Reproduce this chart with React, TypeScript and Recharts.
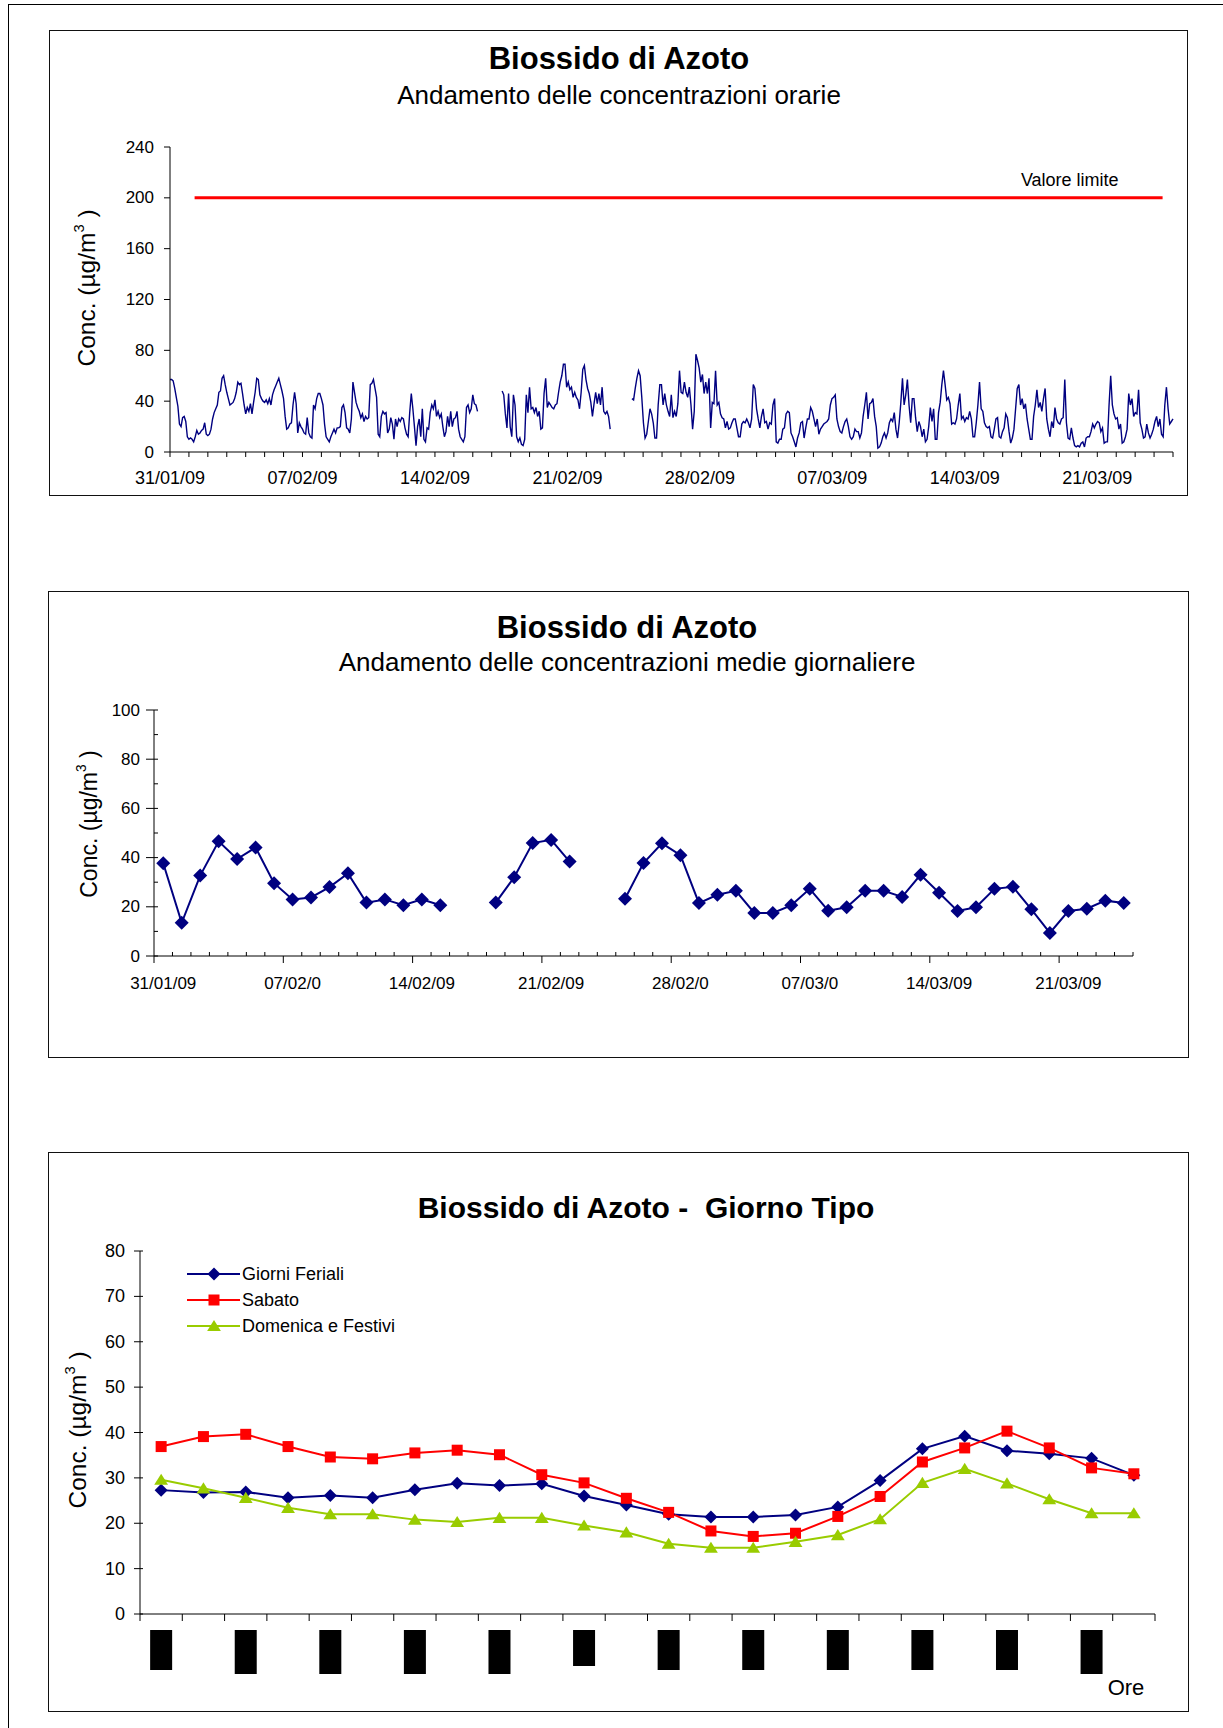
import React from 'react';
import { LineChart, Line, XAxis, YAxis } from 'recharts';

const FONT = '"Liberation Sans", Arial, Helvetica, sans-serif';
const NAVY = '#000080';
const RED = '#FF0000';
const LIME = '#99CC00';

// ---------- Chart 1: hourly NO2 (read every ~2 h off the trace), three recorded stretches
const hourlySeg1 = [
  57, 57, 56, 50, 43, 36, 22, 20, 27, 28, 24, 12,
  10, 11, 10, 8, 12, 17, 14, 15, 17, 18, 23, 14,
  13, 14, 18, 26, 31, 34, 37, 47, 48, 58, 60, 53,
  47, 42, 37, 38, 39, 42, 47, 55, 53, 54, 46, 37,
  30, 35, 32, 38, 30, 39, 47, 58, 57, 45, 42, 40,
  39, 41, 38, 42, 37, 45, 49, 52, 55, 58, 53, 48,
  42, 28, 18, 19, 22, 23, 37, 47, 38, 15, 23, 20,
  18, 15, 14, 27, 15, 12, 11, 37, 34, 42, 46, 46,
  42, 37, 22, 12, 10, 8, 12, 15, 18, 15, 19, 19,
  20, 35, 37, 31, 19, 18, 15, 26, 55, 47, 39, 35,
  32, 27, 30, 24, 28, 26, 27, 53, 54, 57, 50, 43,
  14, 12, 28, 32, 30, 31, 15, 18, 27, 22, 10, 26,
  20, 26, 24, 27, 26, 19, 14, 12, 31, 46, 34, 20,
  5, 20, 26, 12, 34, 10, 8, 19, 18, 31, 37, 34,
  41, 28, 32, 27, 30, 20, 12, 16, 28, 20, 32, 20,
  26, 27, 32, 18, 12, 10, 8, 12, 35, 37, 31, 34,
  45, 38, 37, 32,
];

const hourlySeg2 = [
  48, 45, 30, 19, 46, 20, 12, 45, 37, 12,
  8, 11, 6, 5, 10, 45, 31, 51, 34, 35,
  31, 35, 28, 32, 18, 19, 46, 58, 35, 39,
  37, 35, 34, 37, 38, 47, 55, 60, 69, 69,
  51, 55, 49, 51, 43, 47, 43, 41, 34, 47,
  65, 68, 57, 50, 46, 39, 28, 38, 47, 38,
  46, 37, 51, 32, 30, 32, 28, 18,
];

const hourlySeg3 = [
  42, 41, 50, 58, 64, 60, 43, 23, 11, 14,
  24, 34, 30, 23, 11, 11, 37, 53, 53, 37,
  46, 37, 32, 28, 45, 27, 32, 28, 38, 64,
  47, 46, 55, 47, 43, 51, 37, 18, 32, 77,
  72, 66, 55, 61, 46, 55, 46, 58, 19, 39,
  38, 64, 37, 39, 30, 27, 26, 19, 24, 18,
  19, 23, 26, 26, 19, 12, 12, 22, 24, 23,
  26, 23, 19, 26, 53, 50, 34, 26, 19, 28,
  34, 23, 24, 18, 23, 22, 37, 42, 8, 7,
  10, 10, 18, 19, 30, 32, 31, 15, 12, 8,
  4, 11, 15, 23, 24, 11, 19, 26, 26,
  35, 32, 26, 20, 26, 14, 18, 20, 22, 23,
  24, 26, 37, 42, 43, 45, 26, 20, 16, 15,
  20, 24, 26, 20, 12, 10, 12, 18, 16, 16,
  11, 15, 28, 37, 47, 26, 38, 39, 42, 28,
  20, 3, 4, 7, 12, 15, 11, 15, 23, 26,
  24, 31, 18, 11, 23, 39, 58, 37, 45, 57,
  37, 23, 42, 42, 27, 16, 24, 20, 12, 18,
  8, 10, 20, 35, 24, 34, 10, 10, 31, 39,
  53, 64, 53, 41, 43, 38, 22, 23, 22, 26,
  37, 46, 26, 28, 24, 27, 26, 32, 26, 12,
  12, 23, 37, 55, 34, 32, 23, 20, 19, 20,
  12, 11, 18, 26, 27, 12, 11, 16, 19, 30,
  27, 16, 7, 11, 18, 34, 50, 53, 37, 42,
  34, 38, 26, 18, 10, 10, 28, 37, 49, 35,
  39, 32, 42, 50, 26, 18, 12, 24, 19, 35,
  26, 23, 22, 26, 27, 57, 23, 11, 10, 19,
  11, 5, 4, 5, 4, 7, 8, 4, 11, 12,
  12, 16, 22, 19, 22, 24, 23, 16, 19, 7,
  8, 8, 37, 60, 37, 30, 26, 27, 18, 22,
  7, 8, 12, 18, 46, 37, 42, 28, 31, 30,
  49, 23, 18, 11, 12, 22, 15, 11, 14, 18,
  24, 28, 20, 26, 14, 12, 37, 51, 34, 22,
  24, 26,
];

// days since 31/01/09 where each recorded stretch starts / ends
const segStart = [0, 17.55, 24.41];
const segEnd = [16.25, 23.26, 53];
const weekLabels1 = ['31/01/09', '07/02/09', '14/02/09', '21/02/09', '28/02/09', '07/03/09', '14/03/09', '21/03/09'];
const limitDays = [1.3, 52.45];
const limitValue = 200;

// ---------- Chart 2: daily means (null = missing day)
const dailyMeans = [
  37.7, 13.5, 32.7, 46.6, 39.4, 44.1, 29.6, 23, 23.8, 28, 33.6, 21.7, 23, 20.6, 23, 20.6,
  null, null, 21.7, 32, 45.9, 47.2, 38.4, null, null,
  23.3, 37.8, 45.8, 41, 21.5, 24.9, 26.5, 17.5, 17.5, 20.6, 27.3, 18.4, 19.8, 26.5, 26.5,
  24, 33, 25.7, 18.3, 19.8, 27.3, 28.1, 19, 9.4, 18.3, 19.2, 22.5, 21.5,
];
const weekLabels2 = ['31/01/09', '07/02/0', '14/02/09', '21/02/09', '28/02/0', '07/03/0', '14/03/09', '21/03/09'];

// ---------- Chart 3: typical day
const hours = ['1', '2', '3', '4', '5', '6', '7', '8', '9', '10', '11', '12',
  '13', '14', '15', '16', '17', '18', '19', '20', '21', '22', '23', '24'];
const feriali = [27.3, 26.8, 26.9, 25.6, 26.1, 25.6, 27.4, 28.8, 28.3, 28.7, 26, 24,
  22, 21.4, 21.4, 21.8, 23.6, 29.4, 36.4, 39.2, 36, 35.3, 34.3, 30.6];
const sabato = [36.9, 39.1, 39.6, 36.9, 34.6, 34.2, 35.5, 36.1, 35.1, 30.7, 28.9, 25.5,
  22.4, 18.3, 17.1, 17.8, 21.5, 25.9, 33.5, 36.6, 40.3, 36.6, 32.2, 30.9];
const domenica = [29.6, 27.7, 25.6, 23.4, 22, 22, 20.8, 20.3, 21.2, 21.2, 19.5, 18,
  15.5, 14.6, 14.6, 15.9, 17.4, 20.9, 28.9, 32, 28.8, 25.3, 22.2, 22.2];
const seriesNames = ['Giorni Feriali', 'Sabato', 'Domenica e Festivi'];

// heights of the solid blocks that stand in for the hour labels
const HOUR_BLOCK_H = [40, 44, 44, 44, 44, 36, 40, 40, 40, 40, 40, 44];

// ---------- derived tables
const hourlyData: { t: number; v: number | null }[] = [];
[hourlySeg1, hourlySeg2, hourlySeg3].forEach((seg, s) => {
  const step = (segEnd[s] - segStart[s]) / (seg.length - 1);
  seg.forEach((v, i) => hourlyData.push({ t: segStart[s] + i * step, v }));
  if (s < 2) hourlyData.push({ t: segEnd[s] + 0.1, v: null });
});
const limitData = limitDays.map((t) => ({ t, v: limitValue }));
const dailyData = dailyMeans.map((v, d) => ({ d, v }));
const typicalDay = hours.map((h, i) => ({ i, h, fer: feriali[i], sab: sabato[i], dom: domenica[i] }));

const range = (from: number, to: number, step: number) => {
  const out: number[] = [];
  for (let v = from; v <= to + 1e-9; v += step) out.push(Math.round(v * 10) / 10);
  return out;
};

// ---------- marker shapes
const diamond = (cx: number, cy: number, r: number, fill: string, key?: any) => (
  <path key={key} d={`M${cx},${cy - r}L${cx + r},${cy}L${cx},${cy + r}L${cx - r},${cy}Z`} fill={fill} />
);
const square = (cx: number, cy: number, r: number, fill: string, key?: any) => (
  <rect key={key} x={cx - r} y={cy - r} width={2 * r} height={2 * r} fill={fill} />
);
const triangle = (cx: number, cy: number, r: number, fill: string, key?: any) => (
  <path key={key} d={`M${cx},${cy - r}L${cx + r * 1.15},${cy + r * 0.85}L${cx - r * 1.15},${cy + r * 0.85}Z`} fill={fill} />
);

const dotWith = (shape: typeof diamond, r: number, fill: string) => (p: any) =>
  p.cx == null || p.cy == null || p.value == null ? <g key={`n${p.index}`} /> : shape(p.cx, p.cy, r, fill, `d${p.index}`);

const txt = { fontFamily: FONT, fill: '#000' };

// ---------- small html helpers
const Box = ({ left, top, width, height, children }: any) => (
  <div style={{ position: 'absolute', left, top, width, height, boxSizing: 'border-box', border: '1px solid #111', background: '#fff' }}>
    {children}
  </div>
);

const Centered = ({ x, y, size, bold, children }: any) => (
  <div style={{ position: 'absolute', left: x, top: y, transform: 'translate(-50%, -50%)', whiteSpace: 'pre', fontFamily: FONT, fontSize: size, fontWeight: bold ? 'bold' : 'normal', color: '#000', lineHeight: 1 }}>
    {children}
  </div>
);

const YTitle = ({ x, y, size }: any) => (
  <div style={{ position: 'absolute', left: x, top: y, transform: 'translate(-50%, -50%) rotate(-90deg)', whiteSpace: 'pre', fontFamily: FONT, fontSize: size, color: '#000', lineHeight: 1 }}>
    Conc. (µg/m<sup style={{ fontSize: '0.6em', verticalAlign: '0.75em' }}>3</sup> )
  </div>
);

// ---------- chart 1
function HourlyChart() {
  const xTick = ({ x, y, payload }: any) => {
    const d = payload.value;
    return (
      <g>
        <line x1={x} x2={x} y1={y} y2={y + 5} stroke="#000" />
        {d % 7 === 0 && (
          <text x={x} y={y + 26} textAnchor="middle" dominantBaseline="central" fontSize={18} {...txt}>
            {weekLabels1[d / 7]}
          </text>
        )}
      </g>
    );
  };
  const yTick = ({ x, y, payload }: any) => (
    <g>
      <line x1={x - 6} x2={x} y1={y} y2={y} stroke="#000" />
      <text x={x - 16} y={y} textAnchor="end" dominantBaseline="central" fontSize={17} {...txt}>{payload.value}</text>
    </g>
  );
  const limitLabel = (p: any) =>
    p.index === limitData.length - 1 ? (
      <text key="lbl" x={p.cx - 44} y={p.cy - 12} textAnchor="end" fontSize={18} {...txt}>Valore limite</text>
    ) : (
      <g key={`l${p.index}`} />
    );

  return (
    <Box left={49} top={30} width={1139} height={466}>
      <Centered x={569} y={27} size={31} bold>Biossido di Azoto</Centered>
      <Centered x={569} y={64} size={26}>Andamento delle concentrazioni orarie</Centered>
      <YTitle x={36} y={257} size={24.5} />
      <LineChart width={1137} height={464} margin={{ top: 116, right: 14, bottom: 0, left: 0 }}>
        <XAxis type="number" dataKey="t" domain={[0, 53]} ticks={range(0, 53, 1)} interval={0} height={43}
          axisLine={{ stroke: '#000' }} tickLine={false} tickSize={0} tickMargin={0} tick={xTick} />
        <YAxis type="number" domain={[0, 240]} ticks={range(0, 240, 40)} interval={0} width={120}
          axisLine={{ stroke: '#000' }} tickLine={false} tickSize={0} tickMargin={0} tick={yTick} />
        <Line data={hourlyData} dataKey="v" stroke={NAVY} strokeWidth={1.4} dot={false}
          connectNulls={false} isAnimationActive={false} />
        <Line data={limitData} dataKey="v" stroke={RED} strokeWidth={3} dot={limitLabel} isAnimationActive={false} />
      </LineChart>
    </Box>
  );
}

// ---------- chart 2
function DailyChart() {
  const xTick = ({ x, y, payload }: any) => {
    const v = payload.value;
    if (Number.isInteger(v)) {
      return v % 7 === 0 ? (
        <text x={x} y={y + 27} textAnchor="middle" dominantBaseline="central" fontSize={17} {...txt}>
          {weekLabels2[v / 7]}
        </text>
      ) : (
        <g />
      );
    }
    const major = (v + 0.5) % 7 === 0;
    return <line x1={x} x2={x} y1={y} y2={major ? y + 7 : y - 4} stroke="#000" />;
  };
  const yTick = ({ x, y, payload }: any) => {
    const v = payload.value;
    const major = v % 20 === 0;
    return (
      <g>
        <line x1={major ? x - 8 : x} x2={x + 4} y1={y} y2={y} stroke="#000" />
        {major && (
          <text x={x - 14} y={y} textAnchor="end" dominantBaseline="central" fontSize={17} {...txt}>{v}</text>
        )}
      </g>
    );
  };

  return (
    <Box left={48} top={591} width={1141} height={467}>
      <Centered x={578} y={35} size={31} bold>Biossido di Azoto</Centered>
      <Centered x={578} y={70} size={26}>Andamento delle concentrazioni medie giornaliere</Centered>
      <YTitle x={39} y={232} size={23} />
      <LineChart width={1139} height={465} data={dailyData} margin={{ top: 118, right: 55, bottom: 0, left: 0 }}>
        <XAxis type="number" dataKey="d" domain={[-0.5, dailyMeans.length - 0.5]}
          ticks={range(-0.5, dailyMeans.length - 0.5, 0.5)} interval={0} height={101}
          axisLine={{ stroke: '#000' }} tickLine={false} tickSize={0} tickMargin={0} tick={xTick} />
        <YAxis type="number" domain={[0, 100]} ticks={range(0, 100, 10)} interval={0} width={105}
          axisLine={{ stroke: '#000' }} tickLine={false} tickSize={0} tickMargin={0} tick={yTick} />
        <Line dataKey="v" stroke={NAVY} strokeWidth={2} dot={dotWith(diamond, 7, NAVY)}
          connectNulls={false} isAnimationActive={false} />
      </LineChart>
    </Box>
  );
}

// ---------- chart 3
function TypicalDayChart() {
  const xTick = ({ x, y, payload }: any) => {
    const v = payload.value;
    if (!Number.isInteger(v)) return <line x1={x} x2={x} y1={y} y2={y + 7} stroke="#000" />;
    if (v % 2 !== 0) return <g />;
    return <rect x={x - 11} y={y + 16} width={22} height={HOUR_BLOCK_H[v / 2]} fill="#000" />;
  };
  const yTick = ({ x, y, payload }: any) => (
    <g>
      <line x1={x - 6} x2={x + 3} y1={y} y2={y} stroke="#000" />
      <text x={x - 15} y={y} textAnchor="end" dominantBaseline="central" fontSize={18} {...txt}>{payload.value}</text>
    </g>
  );
  const legendShapes = [
    (cx: number, cy: number) => diamond(cx, cy, 6.5, NAVY),
    (cx: number, cy: number) => square(cx, cy, 5.5, RED),
    (cx: number, cy: number) => triangle(cx, cy, 6, LIME),
  ];
  const legendColors = [NAVY, RED, LIME];

  return (
    <Box left={48} top={1152} width={1141} height={560}>
      <Centered x={597} y={55} size={30} bold>{'Biossido di Azoto -  Giorno Tipo'}</Centered>
      <YTitle x={28} y={277} size={24.5} />
      <Centered x={1077} y={535} size={22}>Ore</Centered>
      <LineChart width={1139} height={558} data={typicalDay} margin={{ top: 98, right: 33, bottom: 0, left: 0 }}>
        <XAxis type="number" dataKey="i" domain={[-0.5, hours.length - 0.5]}
          ticks={range(-0.5, hours.length - 0.5, 0.5)} interval={0} height={97}
          axisLine={{ stroke: '#000' }} tickLine={false} tickSize={0} tickMargin={0} tick={xTick} />
        <YAxis type="number" domain={[0, 80]} ticks={range(0, 80, 10)} interval={0} width={91}
          axisLine={{ stroke: '#000' }} tickLine={false} tickSize={0} tickMargin={0} tick={yTick} />
        <Line dataKey="fer" name={seriesNames[0]} stroke={NAVY} strokeWidth={2} dot={dotWith(diamond, 6.5, NAVY)} isAnimationActive={false} />
        <Line dataKey="sab" name={seriesNames[1]} stroke={RED} strokeWidth={2} dot={dotWith(square, 5.5, RED)} isAnimationActive={false} />
        <Line dataKey="dom" name={seriesNames[2]} stroke={LIME} strokeWidth={2} dot={dotWith(triangle, 6, LIME)} isAnimationActive={false} />
      </LineChart>
      <svg style={{ position: 'absolute', left: 130, top: 103 }} width={260} height={90}>
        {seriesNames.map((name, k) => {
          const cy = 18 + k * 26;
          return (
            <g key={name}>
              <line x1={8} x2={61} y1={cy} y2={cy} stroke={legendColors[k]} strokeWidth={2} />
              {legendShapes[k](35, cy)}
              <text x={63} y={cy} dominantBaseline="central" fontSize={18} {...txt}>{name}</text>
            </g>
          );
        })}
      </svg>
    </Box>
  );
}

export default function App() {
  return (
    <div style={{ position: 'absolute', left: 0, top: 0, width: 1223, height: 1728, background: '#fff', overflow: 'hidden' }}>
      <div style={{ position: 'absolute', left: 8, top: 4, width: 1215, height: 1, background: '#000' }} />
      <div style={{ position: 'absolute', left: 8, top: 4, width: 1, height: 1724, background: '#000' }} />
      <HourlyChart />
      <DailyChart />
      <TypicalDayChart />
    </div>
  );
}
